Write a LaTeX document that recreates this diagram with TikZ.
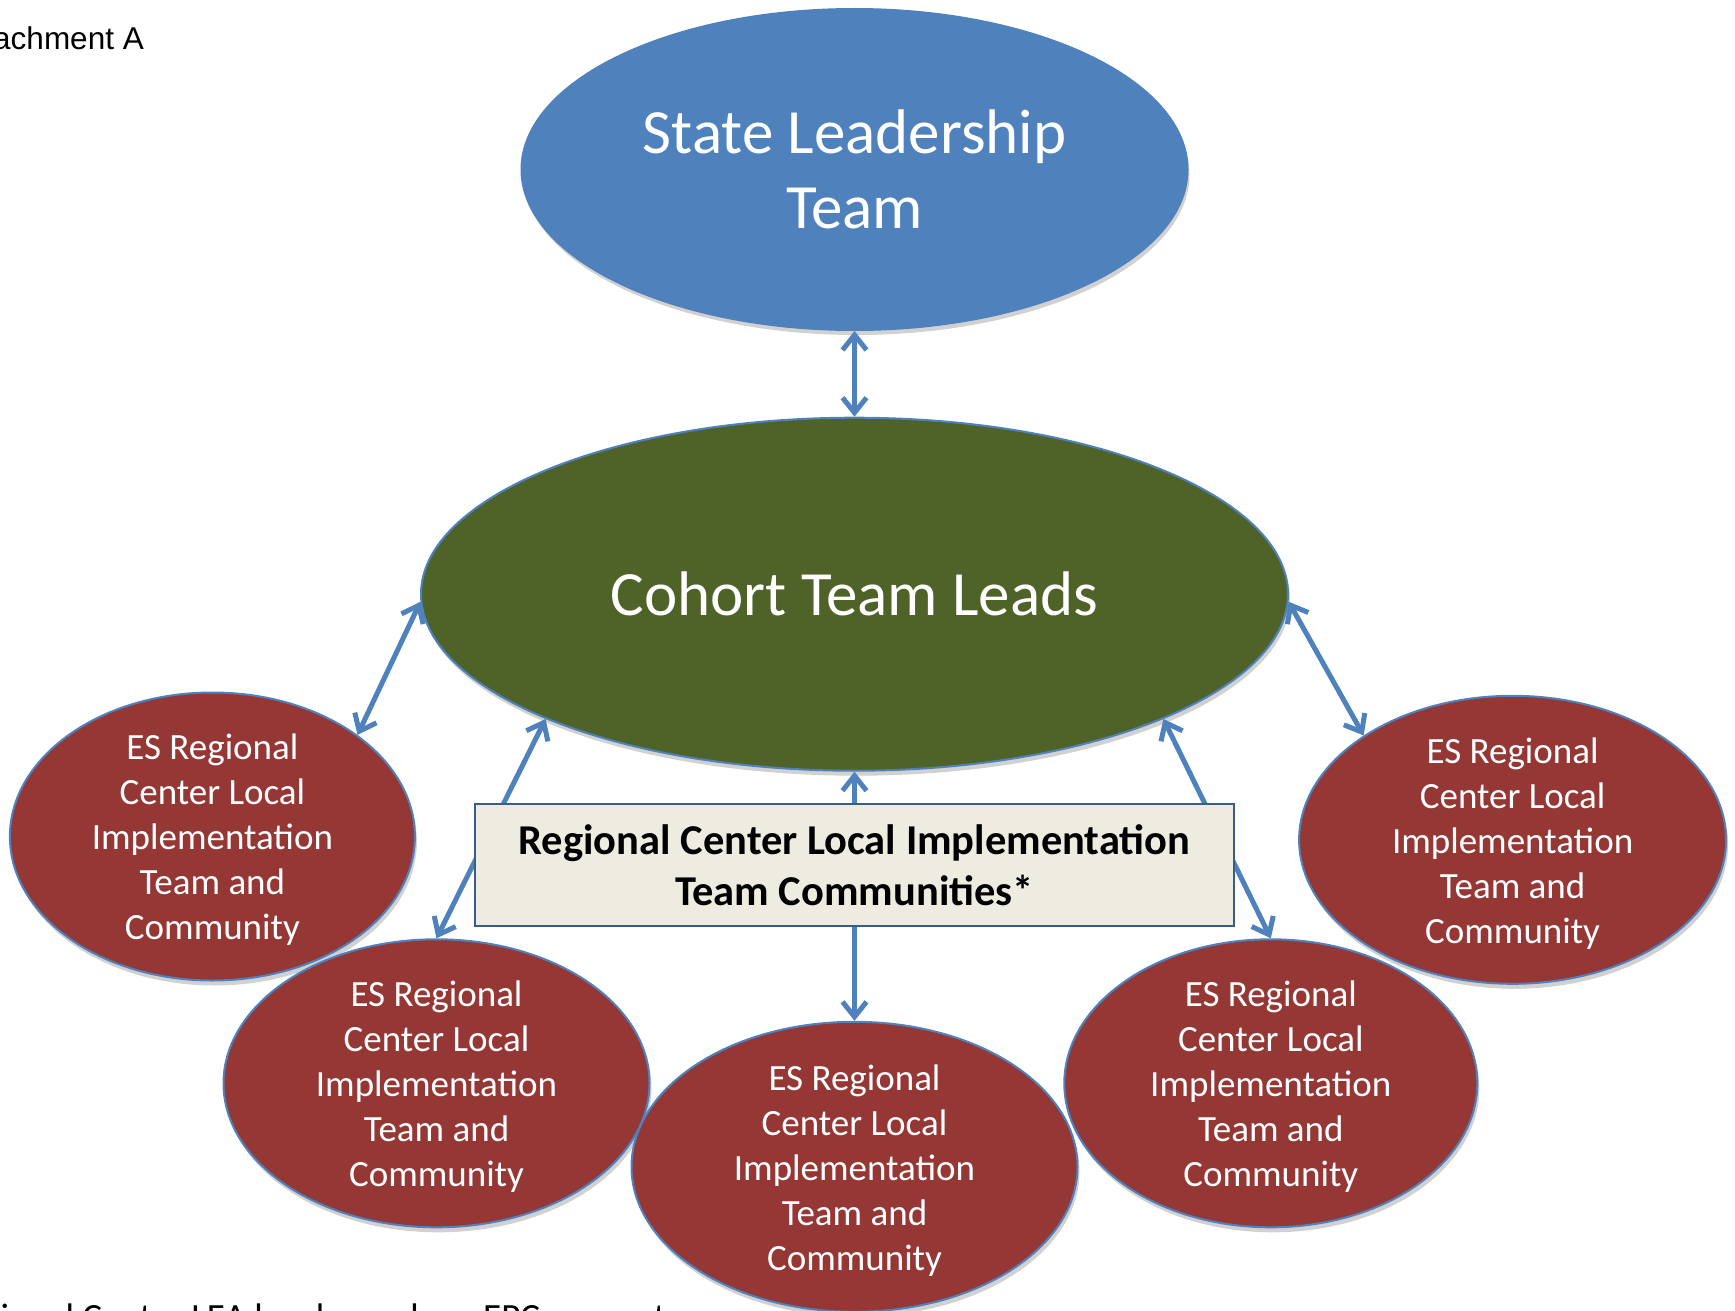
\documentclass[tikz,border=0pt]{standalone}
\usepackage{fontspec}
\setmainfont{Carlito}
\newfontfamily\arialfont{Liberation Sans}
\usetikzlibrary{shapes.geometric,arrows.meta,shadows}

\definecolor{leadblue}{HTML}{4F81BD}
\definecolor{cohortgreen}{HTML}{4F6228}
\definecolor{regionred}{HTML}{953735}
\definecolor{boxfill}{HTML}{EEECE1}
\definecolor{boxline}{HTML}{385D8A}

\begin{document}
\begin{tikzpicture}[x=1pt,y=-1pt,
  oval/.style={ellipse, inner sep=0pt, draw=leadblue, line width=2pt,
    drop shadow={shadow xshift=2pt, shadow yshift=-5pt, opacity=0.18, fill=black}},
  regionoval/.style={oval, fill=regionred},
  regiontext/.style={align=center, text=white, font=\fontsize{37}{45}\selectfont},
  bigtext/.style={align=center, text=white, font=\fontsize{63}{75}\selectfont},
  link/.style={leadblue, line width=5pt, {Straight Barb[length=15pt,width=24pt]}-{Straight Barb[length=15pt,width=24pt]}},
]
\useasboundingbox (0,0) rectangle (1735,1311);
\fill[white] (0,0) rectangle (1735,1311);

% header and footnote lines
\node[anchor=base east, inner sep=0pt, font=\arialfont\fontsize{31.5}{37}\selectfont] (att) at (144,50) {Attachment A};
\node[anchor=base west, inner sep=0pt, font=\fontsize{37}{45}\selectfont] (note) at (-55,1329) {Regional Center LEA level members EPC support};

% leadership tiers
\node[oval, fill=leadblue, minimum width=666pt, minimum height=321pt, bigtext] (state) at (854.5,169.5) {State Leadership\\Team};
\node[oval, fill=cohortgreen, minimum width=867pt, minimum height=353pt, bigtext] (cohort) at (854.5,594.2) {Cohort Team Leads};

% regional teams
\node[regionoval, minimum width=405pt, minimum height=288pt] (r1) at (212.4,836.5) {};
\node[regionoval, minimum width=427pt, minimum height=288pt] (r2) at (1512.6,839.8) {};
\node[regionoval, minimum width=426pt, minimum height=288pt] (r3) at (436.5,1083.3) {};
\node[regionoval, minimum width=413pt, minimum height=288pt] (r5) at (1270.8,1083.3) {};
\node[regionoval, minimum width=446pt, minimum height=290pt] (r4) at (854.5,1166.8) {};

\foreach \r in {r1,r2,r3,r4,r5}
  \node[regiontext, yshift=-3.5pt] (\r text) at (\r) {ES Regional\\Center Local\\Implementation\\Team and\\Community};

% connectors
\draw[link] (state.south) -- (cohort.north);
\draw[link] (cohort.181) -- (r1.35.6);
\draw[link] (cohort.-1) -- (r2.145.7);
\draw[link] (cohort.202.3) -- (r3.north);
\draw[link] (cohort.-22.3) -- (r5.north);
\draw[link] (cohort.south) -- (r4.north);

% central label box
\node[draw=boxline, fill=boxfill, line width=2pt, minimum width=759pt, minimum height=121.7pt,
  align=center, font=\bfseries\fontsize{42.5}{51}\selectfont] (box) at (854.5,865.3)
  {Regional Center Local Implementation\\Team Communities*};
\end{tikzpicture}
\end{document}
